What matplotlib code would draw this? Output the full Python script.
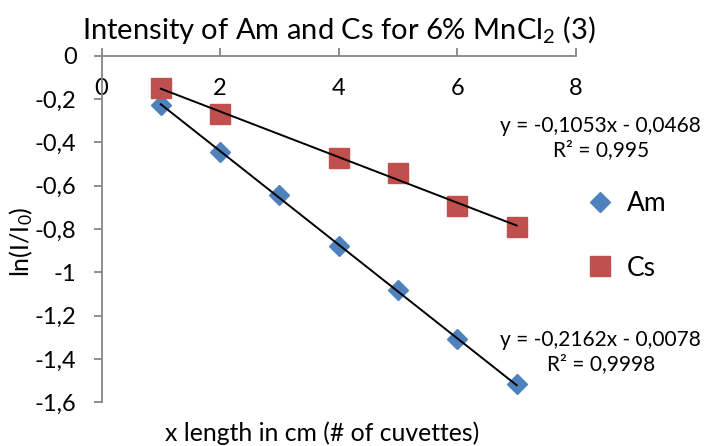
import matplotlib.pyplot as plt
import numpy as np
from matplotlib.ticker import FuncFormatter, MultipleLocator

plt.rcParams['font.family'] = ['Lato', 'DejaVu Sans']

# cuvette count vs ln(I/I0)
x_am = [1, 2, 3, 4, 5, 6, 7]
am = [-0.227, -0.446, -0.643, -0.878, -1.081, -1.309, -1.515]
x_cs = [1, 2, 4, 5, 6, 7]
cs = [-0.150, -0.269, -0.474, -0.540, -0.694, -0.789]

# linear trendlines (slope, intercept, R^2)
fit_am = (-0.2162, -0.0078, 0.9998)
fit_cs = (-0.1053, -0.0468, 0.995)

blue = '#4F81BD'
red = '#C0504D'
grey = '#868686'

fig = plt.figure(figsize=(7.05, 4.46), dpi=100)
ax = fig.add_axes([0.144, 0.098, 0.673, 0.777])

ax.plot(x_am, am, 'D', color=blue, ms=10.5, mec=blue, label='Am', zorder=3)
ax.plot(x_cs, cs, 's', color=red, ms=14, mec=red, label='Cs', zorder=3)

for xs, (m, b, r2) in ((x_am, fit_am), (x_cs, fit_cs)):
    xx = np.array([min(xs), max(xs)])
    ax.plot(xx, m * xx + b, color='black', lw=1.4, zorder=4)

ax.set_xlim(0, 8)
ax.set_ylim(-1.6, 0)
ax.xaxis.set_major_locator(MultipleLocator(2))
ax.yaxis.set_major_locator(MultipleLocator(0.2))

comma = FuncFormatter(lambda v, p: ('%g' % round(v, 2)).replace('.', ','))
ax.xaxis.set_major_formatter(comma)
ax.yaxis.set_major_formatter(comma)

ax.spines['top'].set_visible(False)
ax.spines['right'].set_visible(False)
ax.spines['bottom'].set_position(('data', 0))
for s in ('left', 'bottom'):
    ax.spines[s].set_color(grey)
    ax.spines[s].set_linewidth(1.3)
ax.tick_params(axis='x', direction='in', length=6, width=1.3, color=grey,
               labelsize=17, pad=16)
ax.tick_params(axis='y', direction='out', length=6, width=1.3, color=grey,
               labelsize=17, pad=12)

ax.set_title('Intensity of Am and Cs for 6% MnCl$\\mathregular{_2}$ (3)',
             fontsize=21, pad=12)
fig.text(0.457, 0.029, 'x length in cm (# of cuvettes)', fontsize=17.8,
         ha='center', va='center')
fig.text(0.030, 0.457, 'ln(I/I$\\mathregular{_0}$)', fontsize=18,
         rotation=90, ha='center', va='center')

# trendline equations
fig.text(0.852, 0.690, 'y = -0,1053x - 0,0468\nR² = 0,995', fontsize=15,
         ha='center', va='center', linespacing=1.25)
fig.text(0.852, 0.210, 'y = -0,2162x - 0,0078\nR² = 0,9998', fontsize=15,
         ha='center', va='center', linespacing=1.25)

fig.legend(loc='center left', bbox_to_anchor=(0.795, 0.471), frameon=False,
           fontsize=19, handletextpad=0.4, labelspacing=1.5, handlelength=1.2)

fig.savefig('out.png', dpi=100)
